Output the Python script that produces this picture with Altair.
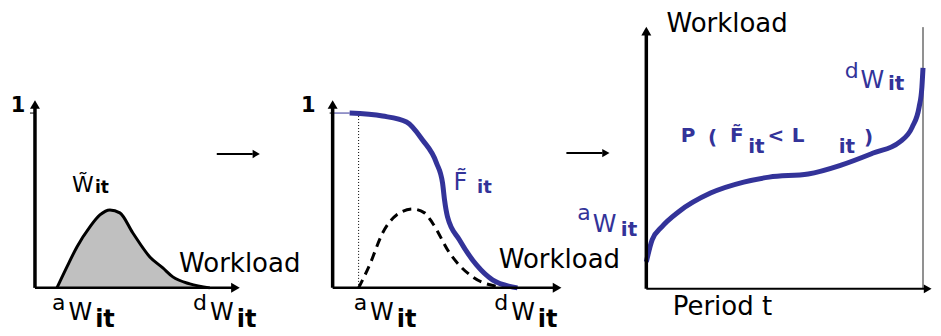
import altair as alt
import pandas as pd

BLUE = "#333399"
GREY = "#c0c0c0"
FONT = "DejaVu Sans"

# ---------------- data ----------------
# Panel 1: density of workload W~it (workload units, probability density)
p1_w = [0.22, 0.32, 0.42, 0.55, 0.65, 0.75, 0.85, 0.98, 1.15, 1.28, 1.38, 1.55, 1.75]
p1_f = [0.0, 0.12, 0.234, 0.349, 0.417, 0.446, 0.429, 0.314, 0.177, 0.114, 0.063, 0.023, 0.0]

# Panel 2: survival curve F~it (blue) and the same density (dashed)
p2_cdf_w = [0.17, 0.50, 0.74, 0.90, 1.04, 1.10, 1.12, 1.15, 1.27, 1.44, 1.60, 1.85]
p2_cdf_p = [1.0, 0.983, 0.949, 0.846, 0.714, 0.600, 0.503, 0.406, 0.274, 0.131, 0.046, 0.0]
p2_pdf_w = [0.26, 0.37, 0.50, 0.64, 0.80, 0.92, 1.00, 1.17, 1.40, 1.67]
p2_pdf_f = [0.0, 0.131, 0.314, 0.417, 0.451, 0.429, 0.371, 0.200, 0.063, 0.006]

# Panel 3: workload level over the period t
p3_t = [0.0, 0.021, 0.056, 0.116, 0.232, 0.352, 0.444, 0.585, 0.704, 0.820, 0.915, 0.961, 0.986, 0.996, 1.0]
p3_w = [0.103, 0.187, 0.237, 0.294, 0.366, 0.408, 0.427, 0.439, 0.473, 0.519, 0.561, 0.618, 0.695, 0.771, 0.844]

# ---------------- view windows (data units) ----------------
P1_XD = [-0.27, 2.65]
P2_XD = [-0.33, 2.97]
P12_YD = [-0.2286, 1.6]
P3_XD = [-0.0614, 1.0325]
P3_YD = [-0.1489, 1.0725]
H = 320


def sc(d):
    return alt.Scale(domain=d, nice=False, zero=False)


def line(xs, ys, xd, yd, **mk):
    df = pd.DataFrame({"x": xs, "y": ys, "o": range(len(xs))})
    return alt.Chart(df).mark_line(**mk).encode(
        x=alt.X("x:Q", scale=sc(xd), axis=None),
        y=alt.Y("y:Q", scale=sc(yd), axis=None),
        order="o:Q",
    )


def area(xs, ys, xd, yd, **mk):
    df = pd.DataFrame({"x": xs, "y": ys})
    return alt.Chart(df).mark_area(**mk).encode(
        x=alt.X("x:Q", scale=sc(xd), axis=None),
        y=alt.Y("y:Q", scale=sc(yd), axis=None),
        y2=alt.datum(0),
    )


def seg(x, y, x2, y2, xd, yd, **mk):
    df = pd.DataFrame({"x": [x], "y": [y], "x2": [x2], "y2": [y2]})
    return alt.Chart(df).mark_rule(**mk).encode(
        x=alt.X("x:Q", scale=sc(xd), axis=None),
        y=alt.Y("y:Q", scale=sc(yd), axis=None),
        x2="x2:Q",
        y2="y2:Q",
    )


def head(x, y, shape, xd, yd, size=100):
    df = pd.DataFrame({"x": [x], "y": [y]})
    return alt.Chart(df).mark_point(
        shape=shape, filled=True, color="black", opacity=1, size=size, strokeWidth=0
    ).encode(
        x=alt.X("x:Q", scale=sc(xd), axis=None),
        y=alt.Y("y:Q", scale=sc(yd), axis=None),
    )


def labels(rows, xd, yd):
    df = pd.DataFrame(rows, columns=["t", "x", "y", "s", "c", "b"])
    layers = []
    for bold, sub in df.groupby("b"):
        layers.append(
            alt.Chart(sub).mark_text(
                font=FONT, align="center", baseline="alphabetic",
                fontWeight="bold" if bold else "normal",
            ).encode(
                x=alt.X("x:Q", scale=sc(xd), axis=None),
                y=alt.Y("y:Q", scale=sc(yd), axis=None),
                text="t:N",
                size=alt.Size("s:Q", scale=None, legend=None),
                color=alt.Color("c:N", scale=None, legend=None),
            )
        )
    return layers


K = "black"

# ---------------- panel 1 ----------------
p1_labels = [
    ("1", -0.17, 1.006, 21, K, True),
    ("W\u0303", 0.48, 0.549, 22, K, False),
    ("it", 0.67, 0.543, 17, K, True),
    ("Workload", 2.05, 0.091, 26, K, False),
    ("a", 0.238, -0.126, 22, K, False),
    ("W", 0.453, -0.183, 24, K, False),
    ("it", 0.701, -0.225, 24, K, True),
    ("d", 1.653, -0.126, 22, K, False),
    ("W", 1.872, -0.183, 24, K, False),
    ("it", 2.118, -0.225, 24, K, True),
]
panel1 = alt.layer(
    area(p1_w, p1_f, P1_XD, P12_YD, color=GREY, interpolate="monotone", opacity=1),
    line(p1_w, p1_f, P1_XD, P12_YD, color="black", strokeWidth=3, interpolate="monotone"),
    seg(0, 0, 0, 1.045, P1_XD, P12_YD, color="black", strokeWidth=3.5),
    seg(0, 0, 2.0, 0, P1_XD, P12_YD, color="black", strokeWidth=2.5),
    seg(-0.05, 1, 0, 1, P1_XD, P12_YD, color="black", strokeWidth=1),
    head(0, 1.049, "triangle-up", P1_XD, P12_YD),
    head(2.007, 0, "triangle-right", P1_XD, P12_YD),
    seg(1.82, 0.766, 2.18, 0.766, P1_XD, P12_YD, color="black", strokeWidth=2),
    head(2.215, 0.766, "triangle-right", P1_XD, P12_YD, size=70),
    *labels(p1_labels, P1_XD, P12_YD),
).properties(width=292, height=H)

# ---------------- panel 2 ----------------
p2_labels = [
    ("1", -0.245, 1.006, 21, K, True),
    ("F\u0303", 1.28, 0.56, 24, BLUE, False),
    ("it", 1.52, 0.543, 18, BLUE, True),
    ("Workload", 2.27, 0.114, 26, K, False),
    ("a", 0.278, -0.126, 22, K, False),
    ("W", 0.493, -0.183, 24, K, False),
    ("it", 0.741, -0.225, 24, K, True),
    ("d", 1.688, -0.126, 22, K, False),
    ("W", 1.907, -0.183, 24, K, False),
    ("it", 2.153, -0.225, 24, K, True),
]
panel2 = alt.layer(
    seg(0.26, 0, 0.26, 1, P2_XD, P12_YD, color="black", strokeWidth=1, strokeDash=[1, 2]),
    line(p2_pdf_w, p2_pdf_f, P2_XD, P12_YD, color="black", strokeWidth=3,
         strokeDash=[9, 6], interpolate="monotone"),
    seg(0, 1, 0.17, 1, P2_XD, P12_YD, color=BLUE, strokeWidth=1),
    seg(-0.03, 1, 0, 1, P2_XD, P12_YD, color="black", strokeWidth=1),
    line(p2_cdf_w, p2_cdf_p, P2_XD, P12_YD, color=BLUE, strokeWidth=5, interpolate="monotone"),
    seg(0, 0, 0, 1.045, P2_XD, P12_YD, color="black", strokeWidth=3.5),
    seg(0, 0, 2.24, 0, P2_XD, P12_YD, color="black", strokeWidth=2.5),
    head(0, 1.049, "triangle-up", P2_XD, P12_YD),
    head(2.247, 0, "triangle-right", P2_XD, P12_YD),
    seg(2.34, 0.771, 2.70, 0.771, P2_XD, P12_YD, color="black", strokeWidth=2),
    head(2.735, 0.771, "triangle-right", P2_XD, P12_YD, size=70),
    *labels(p2_labels, P2_XD, P12_YD),
).properties(width=330, height=H)

# ---------------- panel 3 ----------------
p3_labels = [
    ("Workload", 0.292, 0.983, 26, K, False),
    ("Period t", 0.275, -0.099, 26, K, False),
    ("d", 0.742, 0.805, 22, BLUE, False),
    ("W", 0.817, 0.767, 24, BLUE, False),
    ("it", 0.903, 0.760, 20, BLUE, True),
    ("a", -0.2256, 0.263, 22, BLUE, False),
    ("W", -0.151, 0.2176, 24, BLUE, False),
    ("it", -0.0624, 0.202, 20, BLUE, True),
    ("P", 0.151, 0.561, 20, BLUE, True),
    ("(", 0.239, 0.553, 20, BLUE, True),
    ("F\u0303", 0.327, 0.561, 20, BLUE, True),
    ("it", 0.398, 0.519, 20, BLUE, True),
    ("<", 0.468, 0.561, 20, BLUE, True),
    ("L", 0.549, 0.561, 20, BLUE, True),
    ("it", 0.725, 0.519, 20, BLUE, True),
    (")", 0.803, 0.553, 20, BLUE, True),
]
panel3 = alt.layer(
    seg(1.0, 0, 1.0, 1.0, P3_XD, P3_YD, color="#222222", strokeWidth=1),
    line(p3_t, p3_w, P3_XD, P3_YD, color=BLUE, strokeWidth=5, interpolate="monotone"),
    seg(0, 0, 0, 0.985, P3_XD, P3_YD, color="black", strokeWidth=3.5),
    seg(0, 0, 1.015, 0, P3_XD, P3_YD, color="black", strokeWidth=2),
    head(0, 0.985, "triangle-up", P3_XD, P3_YD),
    head(1.017, 0, "triangle-right", P3_XD, P3_YD, size=80),
    *labels(p3_labels, P3_XD, P3_YD),
).properties(width=303, height=H)

chart = alt.hconcat(panel1, panel2, panel3, spacing=0, bounds="flush").configure_view(
    stroke=None
).properties(padding=0)

chart.save("out.html", embed_options={"renderer": "svg", "actions": False})
